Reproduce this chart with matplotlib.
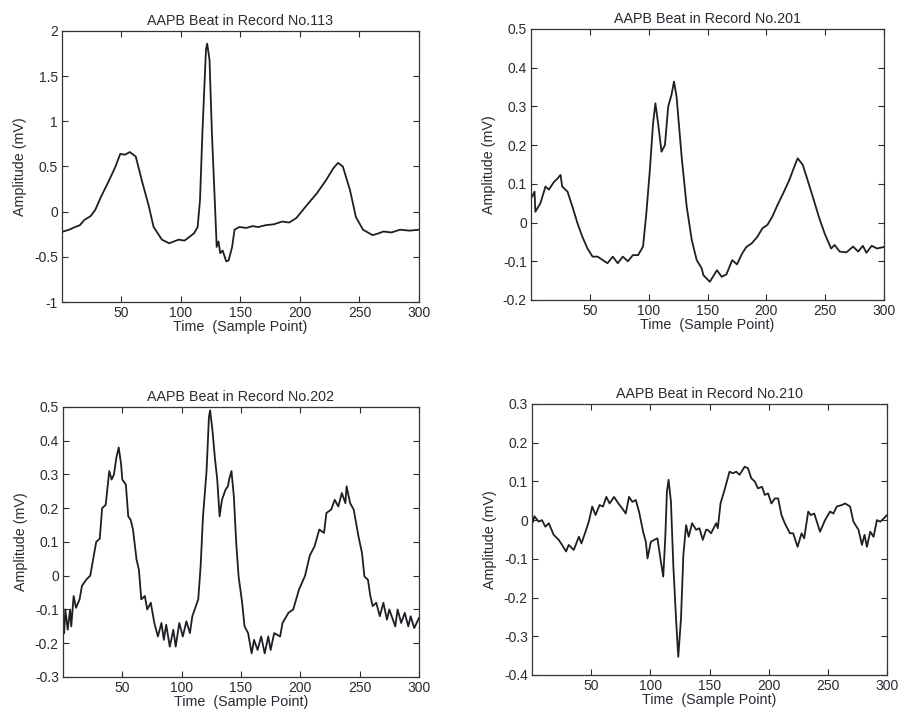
import matplotlib.pyplot as plt
import numpy as np

plt.rcParams["font.family"] = ["Liberation Sans", "DejaVu Sans"]

# Record 113 (x = sample point, y = amplitude in mV)
x_113 = [1, 6, 11, 15, 19, 24, 28, 33, 39, 45, 49, 53, 57, 62, 67, 73, 77, 84, 90, 94,
         98, 103, 107, 111, 114, 116, 118, 121, 122, 124, 126, 129, 130, 131.5, 133, 135,
         138, 140, 143, 145, 149, 155, 160, 165, 171, 178, 185, 191, 197, 205, 214, 222,
         228, 232, 236, 242, 247, 253, 261, 266, 270, 277, 284, 292, 300]
y_113 = [-0.22, -0.2, -0.17, -0.15, -0.09, -0.05, 0.02, 0.17, 0.33, 0.5, 0.64, 0.63, 0.66,
         0.61, 0.35, 0.06, -0.17, -0.31, -0.35, -0.33, -0.31, -0.32, -0.28, -0.24, -0.17,
         0.13, 0.87, 1.79, 1.86, 1.68, 0.87, -0.06, -0.39, -0.33, -0.46, -0.43, -0.55,
         -0.54, -0.39, -0.2, -0.17, -0.18, -0.16, -0.17, -0.15, -0.14, -0.11, -0.12,
         -0.07, 0.06, 0.2, 0.35, 0.48, 0.54, 0.5, 0.24, -0.06, -0.2, -0.26, -0.24, -0.22,
         -0.23, -0.2, -0.21, -0.2]

# Record 201
x_201 = [1, 3, 3.7, 8, 12.3, 15.2, 19.5, 22.3, 25.1, 26.5, 31, 35.2, 39.5, 43.7, 48, 52.3,
         56.6, 61, 65, 69.5, 73.7, 78, 82.3, 86.6, 91, 95.2, 98, 101, 103.7, 105.7, 108,
         110.9, 113.8, 116.6, 119.4, 121.5, 123.7, 128, 132.3, 136.6, 140.8, 145, 146.5,
         152, 158, 162, 166, 171, 175, 179.4, 183, 187.4, 192.3, 196.6, 200.9, 205, 209.4,
         215, 219.5, 223.7, 226.6, 230.9, 235, 239.4, 245, 249.5, 255, 258, 262.3, 268,
         273.7, 278, 282, 285, 289.5, 294, 300]
y_201 = [0.067, 0.08, 0.028, 0.05, 0.093, 0.085, 0.105, 0.113, 0.123, 0.093, 0.08, 0.041,
         -0.002, -0.037, -0.067, -0.088, -0.088, -0.097, -0.105, -0.088, -0.105, -0.088,
         -0.1, -0.084, -0.084, -0.062, 0.024, 0.136, 0.256, 0.308, 0.256, 0.183, 0.2, 0.3,
         0.33, 0.364, 0.325, 0.17, 0.041, -0.045, -0.097, -0.118, -0.136, -0.153, -0.123,
         -0.14, -0.134, -0.097, -0.108, -0.08, -0.063, -0.054, -0.037, -0.015, -0.006,
         0.015, 0.045, 0.08, 0.11, 0.144, 0.166, 0.149, 0.11, 0.067, 0.011, -0.028, -0.067,
         -0.058, -0.075, -0.077, -0.062, -0.075, -0.06, -0.078, -0.06, -0.067, -0.063]

# Record 202
x_202 = [1, 2, 4, 6, 7, 9, 11, 14, 16, 20, 23, 25, 28, 31, 33, 36, 39, 41, 43, 45, 47,
         49, 50, 53, 55, 57, 59, 62, 64, 66, 69, 71, 74, 77, 80, 83, 85, 87, 90, 93, 95,
         98, 101, 104, 107, 109, 112, 114, 116, 118, 121, 123, 124, 126, 128, 130, 132,
         134, 137, 139, 140, 142, 144, 146, 148, 151, 153, 156, 159, 161, 164, 167, 170,
         173, 175, 178, 183, 185, 190, 194, 199, 204, 208, 212, 216, 220, 222, 226, 229,
         232, 235, 238, 239, 242, 245, 249, 252, 254, 257, 259, 261, 264, 267, 270, 273,
         275, 280, 282, 285, 288, 291, 293, 296, 300]
y_202 = [-0.17, -0.1, -0.16, -0.1, -0.15, -0.06, -0.095, -0.07, -0.03, -0.01, 0.0, 0.04,
         0.1, 0.11, 0.2, 0.21, 0.31, 0.285, 0.3, 0.35, 0.38, 0.33, 0.285, 0.27, 0.176,
         0.166, 0.137, 0.048, 0.018, -0.07, -0.06, -0.1, -0.08, -0.14, -0.18, -0.14, -0.19,
         -0.145, -0.21, -0.16, -0.21, -0.14, -0.18, -0.135, -0.17, -0.12, -0.09, -0.07,
         0.028, 0.176, 0.31, 0.47, 0.49, 0.43, 0.35, 0.285, 0.176, 0.225, 0.255, 0.265,
         0.285, 0.31, 0.235, 0.097, -0.002, -0.08, -0.15, -0.17, -0.23, -0.19, -0.22, -0.18,
         -0.23, -0.18, -0.22, -0.17, -0.18, -0.14, -0.11, -0.1, -0.04, 0.0, 0.06, 0.087,
         0.137, 0.127, 0.186, 0.196, 0.225, 0.205, 0.245, 0.215, 0.265, 0.215, 0.196,
         0.117, 0.067, -0.002, -0.012, -0.06, -0.09, -0.08, -0.12, -0.08, -0.13, -0.1,
         -0.15, -0.1, -0.14, -0.11, -0.15, -0.12, -0.155, -0.125]

# Record 210
x_210 = [1, 2, 5.6, 8.4, 11.3, 14.2, 18.3, 22.6, 25.4, 28.8, 31, 35.3, 39.6, 41.8, 45.2,
         48, 50.9, 53.7, 57.1, 60, 62.8, 65.6, 69.3, 73, 76.3, 79.2, 82, 84.8, 87.7, 90.5,
         93.9, 96.2, 97.6, 100.4, 103.3, 106, 108.9, 110.9, 112.6, 114, 115.4, 117.4,
         119.4, 121.7, 123.6, 125.9, 127.9, 130.2, 132.4, 135.3, 138.7, 141.5, 144.3,
         147.1, 148.5, 151.3, 155.6, 157, 159.3, 162.7, 166.9, 169.8, 172.6, 175.4, 179.7,
         182.5, 185.3, 188.2, 191, 194.4, 196.7, 199.5, 202.3, 205.2, 208, 210.8, 213.6,
         217.9, 220.7, 224.4, 227.8, 230, 233.4, 235.6, 238.5, 243.4, 247.6, 251.9, 254.7,
         257.5, 261.8, 264.6, 268.8, 271.6, 275.9, 278.8, 281, 283, 285.8, 288.6, 291.5,
         294.3, 297.1, 300]
y_210 = [-0.004, 0.01, -0.004, 0.0, -0.017, -0.008, -0.038, -0.051, -0.064, -0.081,
         -0.064, -0.077, -0.043, -0.06, -0.03, -0.004, 0.035, 0.013, 0.039, 0.035, 0.06,
         0.043, 0.06, 0.043, 0.03, 0.017, 0.06, 0.047, 0.052, 0.021, -0.03, -0.056, -0.099,
         -0.056, -0.051, -0.047, -0.107, -0.146, -0.047, 0.073, 0.104, 0.048, -0.116,
         -0.254, -0.353, -0.254, -0.09, -0.013, -0.043, -0.008, -0.025, -0.021, -0.051,
         -0.025, -0.025, -0.034, -0.008, -0.021, 0.043, 0.078, 0.125, 0.121, 0.125, 0.117,
         0.138, 0.134, 0.108, 0.1, 0.082, 0.086, 0.065, 0.069, 0.043, 0.056, 0.056, 0.013,
         -0.008, -0.034, -0.034, -0.069, -0.034, -0.047, 0.022, 0.013, 0.017, -0.03, 0.0,
         0.022, 0.017, 0.035, 0.039, 0.043, 0.035, -0.004, -0.025, -0.064, -0.038, -0.069,
         -0.03, -0.043, 0.0, -0.004, 0.004, 0.013]

records = ["113", "201", "202", "210"]
series = [(x_113, y_113), (x_201, y_201), (x_202, y_202), (x_210, y_210)]
y_limits = [(-1, 2), (-0.2, 0.5), (-0.3, 0.5), (-0.4, 0.3)]
y_ticks = [np.arange(-1, 2.01, 0.5), np.arange(-0.2, 0.51, 0.1),
           np.arange(-0.3, 0.51, 0.1), np.arange(-0.4, 0.31, 0.1)]
y_ticklabels = [["-1", "-0.5", "0", "0.5", "1", "1.5", "2"],
                ["-0.2", "-0.1", "0", "0.1", "0.2", "0.3", "0.4", "0.5"],
                ["-0.3", "-0.2", "-0.1", "0", "0.1", "0.2", "0.3", "0.4", "0.5"],
                ["-0.4", "-0.3", "-0.2", "-0.1", "0", "0.1", "0.2", "0.3"]]

positions = [[0.0687, 0.5788, 0.3958, 0.378],
             [0.5887, 0.5816, 0.3914, 0.378],
             [0.0698, 0.0558, 0.3947, 0.3766],
             [0.5898, 0.0586, 0.3936, 0.378]]

fig = plt.figure(figsize=(9.02, 7.17), dpi=100)

text_color = "#2a2a33"
for i in range(4):
    ax = fig.add_axes(positions[i])
    xs, ys = series[i]
    ax.plot(xs, ys, color="#1e1e24", linewidth=1.3)

    ax.set_xlim(0, 300)
    ax.set_ylim(y_limits[i])
    ax.set_xticks([50, 100, 150, 200, 250, 300])
    ax.set_yticks(y_ticks[i])
    ax.set_yticklabels(y_ticklabels[i])

    ax.tick_params(direction="in", top=True, right=True, length=4, width=0.8,
                   labelsize=10, colors=text_color, pad=3)
    for spine in ax.spines.values():
        spine.set_linewidth(0.9)
        spine.set_color("#333333")

    ax.set_title(f"AAPB Beat in Record No.{records[i]}", fontsize=10.3, color=text_color, pad=4)
    ax.set_xlabel("Time  (Sample Point)", fontsize=10.3, color=text_color, labelpad=0)
    ax.set_ylabel("Amplitude (mV)", fontsize=10.3, color=text_color, labelpad=5)

fig.savefig("out.png", dpi=100, facecolor="white")
